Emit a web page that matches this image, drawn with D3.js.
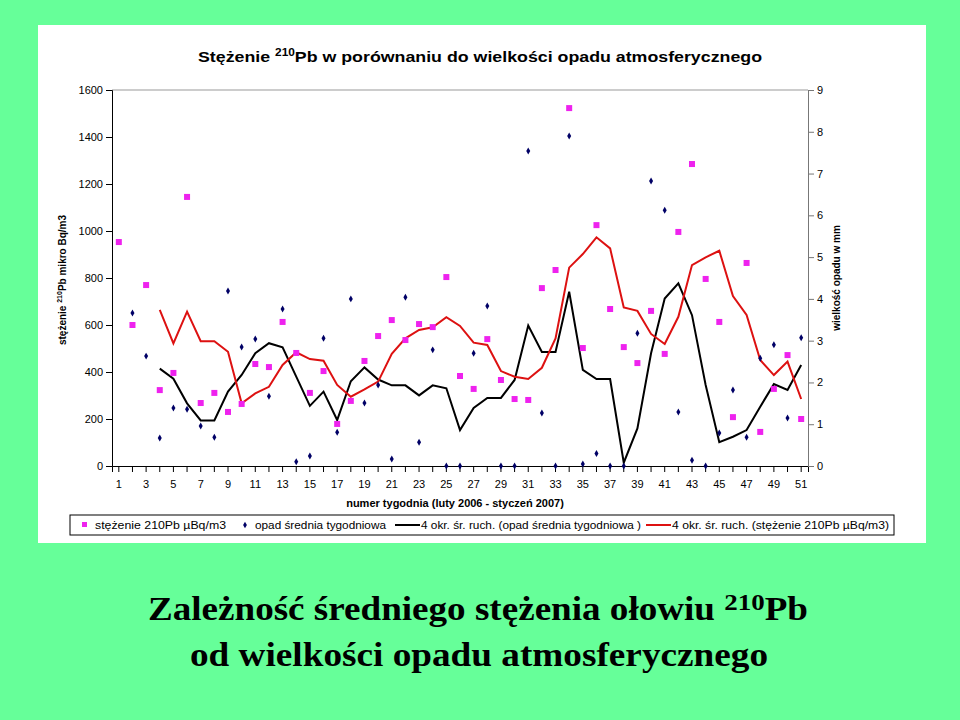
<!DOCTYPE html>
<html><head><meta charset="utf-8">
<script src="https://cdn.jsdelivr.net/npm/d3@7"></script>
<style>body{margin:0;background:#66ff99;}svg{display:block;}</style>
</head><body><svg id="c" width="960" height="720"></svg>
<script>
const weeks = d3.range(1, 52);
const leftTicks = [0,200,400,600,800,1000,1200,1400,1600];
const rightTicks = [0,1,2,3,4,5,6,7,8,9];
const concentration = [953,600,770,323,396,1145,268,311,230,264,434,421,613,481,311,404,179,277,447,553,621,536,604,591,804,383,328,540,366,285,281,757,834,1523,502,1025,668,506,438,660,477,996,1285,796,613,208,864,145,328,472,200];
const precipitation = [null,3.66,2.63,0.67,1.39,1.36,0.96,0.69,4.19,2.85,3.04,1.67,3.76,0.1,0.24,3.06,0.81,4.0,1.51,1.94,0.17,4.04,0.57,2.78,0,0,2.7,3.83,0,0,7.54,1.27,0,7.9,0.05,0.3,0,0,3.18,6.82,6.12,1.29,0.14,0,0.79,1.82,0.69,2.58,2.9,1.15,3.07];
const precipMA = [null,null,null,2.33,2.09,1.50,1.09,1.09,1.78,2.18,2.70,2.94,2.84,2.14,1.44,1.78,1.10,2.03,2.36,2.07,1.93,1.93,1.69,1.93,1.86,0.86,1.39,1.63,1.63,2.06,3.36,2.73,2.73,4.17,2.30,2.08,2.08,0.08,0.90,2.70,4.01,4.37,3.61,1.94,0.57,0.70,0.86,1.42,1.96,1.82,2.42];
const concMA = [null,null,null,664,522,657,531,531,486,267,309,337,430,484,455,448,345,295,326,359,477,543,579,590,633,596,525,515,404,380,370,418,543,844,902,973,926,675,660,562,519,635,855,888,916,723,643,451,387,444,285];

const svg = d3.select("#c");
svg.append("rect").attr("x",38).attr("y",25).attr("width",888).attr("height",518).attr("fill","#fff");
const L=112,R=808,T=90,B=466;
const x = d3.scaleBand().domain(weeks).range([L,R]);
const cx = w => x(w)+x.bandwidth()/2;
const yL = d3.scaleLinear().domain([0,1600]).range([B,T]);
const yR = d3.scaleLinear().domain([0,9]).range([B,T]);
const f = "Arial, 'Liberation Sans', sans-serif";

svg.append("line").attr("x1",L).attr("x2",R).attr("y1",T).attr("y2",T).attr("stroke","#999");
const ax = svg.append("g").attr("transform",`translate(0,${B})`).call(d3.axisBottom(x).tickSize(6).tickFormat(d=>d%2?d:""));
ax.selectAll("text").attr("dy","1.2em");
const al = svg.append("g").attr("transform",`translate(${L},0)`).call(d3.axisLeft(yL).tickValues(leftTicks).tickSize(6).tickFormat(d3.format("d")));
const ar = svg.append("g").attr("transform",`translate(${R},0)`).call(d3.axisRight(yR).tickValues(rightTicks).tickSize(6));
[ax,al,ar].forEach(g=>{g.selectAll("text").attr("font-family",f).attr("font-size",11).attr("fill","#000");g.selectAll("line,path").attr("stroke","#000");});
ar.selectAll("line,path").attr("stroke","#777");

svg.append("text").attr("x",198).attr("y",62).attr("font-family",f).attr("font-weight","bold").attr("font-size",15).attr("textLength",564).attr("lengthAdjust","spacingAndGlyphs")
  .html('Stężenie <tspan dy="-6" font-size="10">210</tspan><tspan dy="6">Pb w porównaniu do wielkości opadu atmosferycznego</tspan>');
svg.append("text").attr("x",455).attr("y",507).attr("text-anchor","middle").attr("font-family",f).attr("font-weight","bold").attr("font-size",11).text("numer tygodnia (luty 2006 - styczeń 2007)");
svg.append("text").attr("transform","translate(66,280) rotate(-90)").attr("text-anchor","middle").attr("font-family",f).attr("font-weight","bold").attr("font-size",10)
  .html('stężenie <tspan font-size="7" dy="-4">210</tspan><tspan dy="4">Pb mikro Bq/m3</tspan>');
svg.append("text").attr("transform","translate(840,278) rotate(-90)").attr("text-anchor","middle").attr("font-family",f).attr("font-weight","bold").attr("font-size",10).text("wielkość opadu w mm");

const lineL = d3.line().defined(d=>d[1]!=null).x(d=>cx(d[0])).y(d=>yL(d[1]));
const lineR = d3.line().defined(d=>d[1]!=null).x(d=>cx(d[0])).y(d=>yR(d[1]));
svg.append("path").datum(weeks.map((w,i)=>[w,precipMA[i]])).attr("d",lineR).attr("fill","none").attr("stroke","#000").attr("stroke-width",2);
svg.append("path").datum(weeks.map((w,i)=>[w,concMA[i]])).attr("d",lineL).attr("fill","none").attr("stroke","#dd1111").attr("stroke-width",2);
svg.selectAll(".sq").data(weeks.map((w,i)=>[w,concentration[i]])).join("rect")
  .attr("x",d=>cx(d[0])-3).attr("y",d=>yL(d[1])-3).attr("width",6).attr("height",6).attr("fill","#ee22ee");
svg.selectAll(".dm").data(weeks.map((w,i)=>[w,precipitation[i]]).filter(d=>d[1]!=null)).join("path")
  .attr("d",d3.symbol(d3.symbolDiamond,14)).attr("transform",d=>`translate(${cx(d[0])},${yR(d[1])})`).attr("fill","#000066");

// legend
const lg = svg.append("g");
lg.append("rect").attr("x",70).attr("y",515).attr("width",824).attr("height",20).attr("fill","#fff").attr("stroke","#000");
const ly=525;
lg.append("rect").attr("x",82).attr("y",ly-3).attr("width",5).attr("height",5).attr("fill","#ee22ee");
lg.append("path").attr("d",d3.symbol(d3.symbolDiamond,12)).attr("transform",`translate(245,${ly})`).attr("fill","#000066");
lg.append("line").attr("x1",395).attr("x2",420).attr("y1",ly).attr("y2",ly).attr("stroke","#000").attr("stroke-width",2);
lg.append("line").attr("x1",646).attr("x2",671).attr("y1",ly).attr("y2",ly).attr("stroke","#dd1111").attr("stroke-width",2);
const lt=[[95,131,"stężenie 210Pb µBq/m3"],[255,131,"opad średnia tygodniowa"],[421,220,"4 okr. śr. ruch. (opad średnia tygodniowa )"],[672,217,"4 okr. śr. ruch. (stężenie 210Pb µBq/m3)"]];
lt.forEach(([xx,w,t])=>lg.append("text").attr("x",xx).attr("y",ly+4).attr("font-family",f).attr("font-size",10.5).attr("textLength",w).attr("lengthAdjust","spacingAndGlyphs").text(t));

const ser="'Liberation Serif','DejaVu Serif',serif";
svg.append("text").attr("x",148).attr("y",620).attr("font-family",ser).attr("font-weight","bold").attr("font-size",33).attr("textLength",660).attr("lengthAdjust","spacingAndGlyphs")
  .html('Zależność średniego stężenia ołowiu <tspan dy="-10" font-size="24">210</tspan><tspan dy="10">Pb</tspan>');
svg.append("text").attr("x",190).attr("y",666).attr("font-family",ser).attr("font-weight","bold").attr("font-size",33).attr("textLength",578).attr("lengthAdjust","spacingAndGlyphs").text("od wielkości opadu atmosferycznego");
</script></body></html>
